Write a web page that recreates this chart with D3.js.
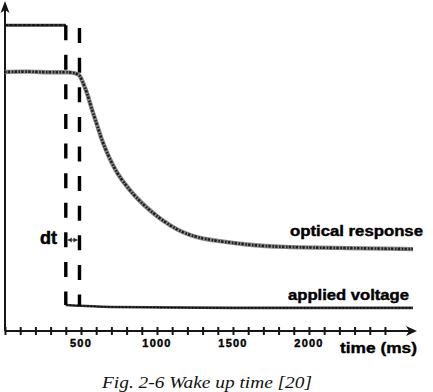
<!DOCTYPE html>
<html><head><meta charset="utf-8">
<script src="https://cdn.jsdelivr.net/npm/d3@7"></script>
<style>html,body{margin:0;padding:0;background:#fff;}svg{display:block;}</style>
</head><body>
<svg id="c" width="433" height="392"></svg>
<script>
// ---- data (time in ms, signal in arbitrary units 0-100) ----
const tickValues = d3.range(0, 2600, 100);
const tickLabels = [500, 1000, 1500, 2000];
const optT = [0, 150, 300, 430, 467, 493, 513, 539, 559, 579, 605, 625, 645, 678, 711, 743, 789, 836, 888, 941, 1000, 1066, 1132, 1204, 1283, 1368, 1592, 1809, 2250, 2684];
const optV = [79.4, 79.6, 79.2, 79.4, 78.9, 78.5, 76.0, 73.2, 69.8, 66.8, 63.2, 60.2, 57.5, 53.8, 50.6, 47.9, 44.9, 42.2, 39.6, 37.3, 35.0, 32.8, 30.9, 29.4, 28.3, 27.6, 26.2, 25.5, 25.2, 24.9];
const voltT = [0, 400, 400, 700, 1500, 2684];
const voltV = [93.8, 93.8, 7.7, 7.1, 6.8, 6.8];
const markerT = [400, 490];
const markerTop = [93.8, 92.9];
const markerBottom = [7.7, 7.5];
const dtLevel = 27.7;
const seriesLabels = ["optical response", "applied voltage"];
const xTitle = "time (ms)";
const caption = "Fig. 2-6 Wake up time [20]";

const svg = d3.select("#c");
const x = d3.scaleLinear().domain([0, 2720]).range([5, 418.4]);
const y = d3.scaleLinear().domain([0, 100]).range([330, 5]);
const ink = "#161616";
const boldFont = "'Liberation Sans', Arial, sans-serif";

function fitText(sel, w) { sel.attr("textLength", w).attr("lengthAdjust", "spacingAndGlyphs"); return sel; }

// axes
const axisY = y(0) + 1;
const xAxis = d3.axisBottom(x).tickValues(tickValues).tickSize(0).tickFormat("");
const gx = svg.append("g").attr("transform", `translate(0,${axisY})`).call(xAxis);
gx.select(".domain").remove();
svg.append("line").attr("x1", x(0)).attr("x2", 412).attr("y1", axisY).attr("y2", axisY)
  .attr("stroke", ink).attr("stroke-width", 2);
gx.selectAll(".tick").append("line").attr("y1", -4).attr("y2", 4).attr("stroke", ink).attr("stroke-width", 2);
svg.append("path").attr("d", `M417,${axisY} L406,${axisY-5} L409,${axisY} L406,${axisY+5} Z`).attr("fill", ink);
svg.append("line").attr("x1", x(0)).attr("x2", x(0)).attr("y1", axisY).attr("y2", 8)
  .attr("stroke", ink).attr("stroke-width", 2);
svg.append("path").attr("d", `M${x(0)},1 L${x(0)+4.5},13 L${x(0)},10 L${x(0)-4.5},13 Z`).attr("fill", ink);

// tick labels
svg.selectAll("text.tl").data(tickLabels).join("text").attr("class", "tl")
  .attr("x", d => x(d)).attr("y", 347).attr("text-anchor", "middle")
  .attr("font-family", boldFont).attr("font-weight", "900")
  .attr("font-size", 11).attr("letter-spacing", 1.2).attr("fill", "#000")
  .attr("stroke", "#000").attr("stroke-width", 0.4).text(d => d);
fitText(svg.append("text").attr("x", 340).attr("y", 353)
  .attr("font-family", boldFont).attr("font-weight", "bold")
  .attr("font-size", 15).attr("fill", "#000").attr("stroke", "#000").attr("stroke-width", 0.4).text(xTitle), 77);

// voltage
const line = d3.line().x(d => x(d[0])).y(d => y(d[1]));
const voltHigh = d3.zip(voltT, voltV).slice(0, 2);
const voltLow = d3.zip(voltT, voltV).slice(2);
svg.append("path").attr("d", line(voltHigh)).attr("fill", "none").attr("stroke", "#3a3a3a").attr("stroke-width", 3);
svg.append("path").attr("d", line(voltHigh)).attr("fill", "none").attr("stroke", "#000").attr("stroke-width", 1.4).attr("stroke-dasharray", "3,1.5");
svg.append("path").attr("d", line.curve(d3.curveMonotoneX)(voltLow)).attr("fill", "none").attr("stroke", "#3a3a3a").attr("stroke-width", 2.6);
svg.append("path").attr("d", line(voltLow)).attr("fill", "none").attr("stroke", "#000").attr("stroke-width", 1.2).attr("stroke-dasharray", "2,1.5");

// dashed markers
markerT.forEach((t, i) => {
  svg.append("line").attr("x1", x(t)).attr("x2", x(t)).attr("y1", y(markerTop[i])).attr("y2", y(markerBottom[i]))
    .attr("stroke", "#000").attr("stroke-width", 3.4).attr("stroke-dasharray", "15,14.6");
});

// dt marker
const dy = y(dtLevel);
svg.append("line").attr("x1", x(markerT[0]) + 2).attr("x2", x(markerT[1]) - 2).attr("y1", dy).attr("y2", dy)
  .attr("stroke", "#666").attr("stroke-width", 1.4);
svg.append("path").attr("d", `M${x(markerT[0])+2},${dy} l4,-2.5 l0,5 Z M${x(markerT[1])-2},${dy} l-4,-2.5 l0,5 Z`).attr("fill", "#333");
svg.append("text").attr("x", 40).attr("y", 244).attr("font-family", boldFont)
  .attr("font-weight", "bold").attr("font-size", 18).attr("fill", "#000").attr("stroke", "#000").attr("stroke-width", 0.5).text("dt");

// optical response
const optData = d3.zip(optT, optV);
const optLine = d3.line().x(d => x(d[0])).y(d => y(d[1])).curve(d3.curveBasis);
svg.append("path").attr("d", optLine(optData)).attr("fill", "none").attr("stroke", "#8a8a8a").attr("stroke-width", 4.4);
svg.append("path").attr("d", optLine(optData)).attr("fill", "none").attr("stroke", "#1e1e1e").attr("stroke-width", 2.6).attr("stroke-dasharray", "1.6,1.2,2.4,1.6");

// series labels
fitText(svg.append("text").attr("x", 290).attr("y", 236).attr("font-family", boldFont)
  .attr("font-weight", "bold").attr("font-size", 14).attr("fill", "#000").attr("stroke", "#000").attr("stroke-width", 0.4).text(seriesLabels[0]), 133);
fitText(svg.append("text").attr("x", 288).attr("y", 300).attr("font-family", boldFont)
  .attr("font-weight", "bold").attr("font-size", 14).attr("fill", "#000").attr("stroke", "#000").attr("stroke-width", 0.4).text(seriesLabels[1]), 121);

// caption
fitText(svg.append("text").attr("x", 102).attr("y", 388).attr("font-family", "'Liberation Serif', serif")
  .attr("font-style", "italic").attr("font-size", 16).attr("fill", "#111").text(caption), 210);
</script>
</body></html>
